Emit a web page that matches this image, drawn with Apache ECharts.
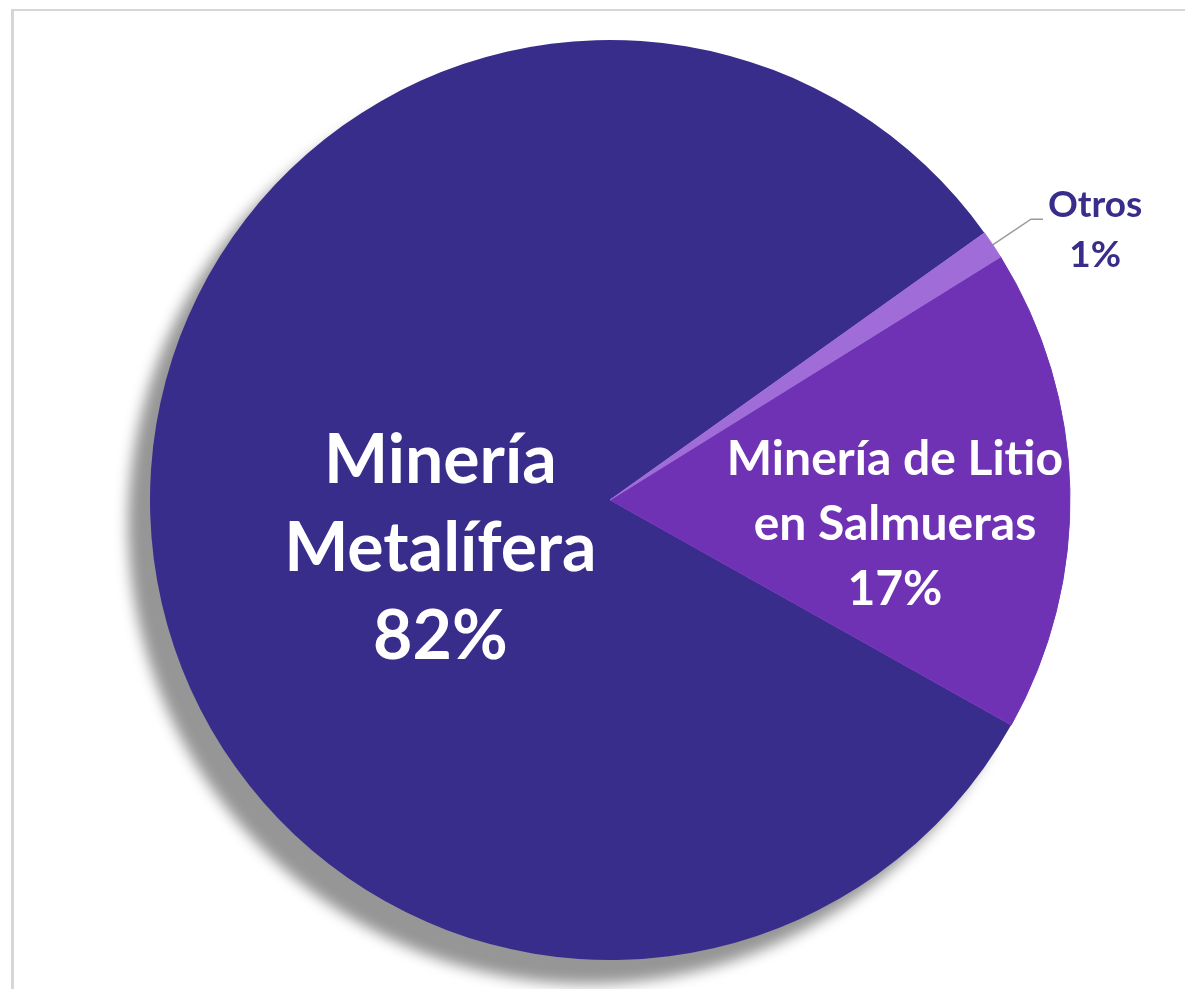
<!DOCTYPE html>
<html>
<head>
<meta charset="utf-8">
<style>
  html, body { margin: 0; padding: 0; background: #fff; }
  #frame {
    position: absolute; left: 11px; top: 9px; right: -10px; bottom: -10px;
    border-top: 2px solid #d6d6d6; border-left: 3px solid #d6d6d6;
  }
  #chart { position: absolute; left: 0; top: 0; width: 1185px; height: 989px; }
</style>
<script src="https://cdn.jsdelivr.net/npm/echarts@6/dist/echarts.min.js"></script>
</head>
<body>
<div id="frame"></div>
<div id="chart"></div>
<script>
// data
const categories = ['Minería\nMetalífera', 'Minería de Litio\nen Salmueras', 'Otros'];
const shares = [82, 17, 1];
const sliceColors = ['#392d8c', '#7032b4', '#9f6cd8'];

const chart = echarts.init(document.getElementById('chart'));

const labelStyles = [
  {
    position: 'inside',
    color: '#fff',
    fontSize: 68,
    fontWeight: 'bold',
    lineHeight: 88,
    offset: [63, 36],
    formatter: (p) => p.name + '\n' + p.value + '%',
  },
  {
    position: 'inside',
    color: '#fff',
    fontSize: 48,
    fontWeight: 'bold',
    lineHeight: 65,
    offset: [52, 30],
    formatter: (p) => p.name + '\n' + p.value + '%',
  },
  {
    position: 'outside',
    color: '#392d8c',
    padding: [22, 0, 0, 0],
    formatter: (p) => '{a|' + p.name + '}\n{a|' + p.value + '%}',
    rich: { a: { align: 'center', fontSize: 37, fontWeight: 'bold', color: '#392d8c', lineHeight: 50, fontFamily: 'Lato' } },
  },
];

const data = categories.map((name, i) => ({
  name: name,
  value: shares[i],
  itemStyle: i === 0
    ? { color: sliceColors[i], borderWidth: 0,
        shadowColor: 'rgba(150,150,150,1)', shadowBlur: 14, shadowOffsetX: -22, shadowOffsetY: 24 }
    : { color: sliceColors[i], borderColor: sliceColors[i], borderWidth: 1 },
  label: labelStyles[i],
  labelLine: i === 2
    ? { show: true, length: 46, length2: 12, lineStyle: { color: '#9a9a9a', width: 1.5 } }
    : { show: false },
}));

chart.setOption({
  animation: false,
  textStyle: { fontFamily: 'Lato' },
  series: [{
    type: 'pie',
    center: [610, 500],
    radius: 460,
    startAngle: 35.5,
    clockwise: false,
    avoidLabelOverlap: false,
    label: { fontFamily: 'Lato' },
    emphasis: { disabled: true },
    data: data,
  }],
});
</script>
</body>
</html>
